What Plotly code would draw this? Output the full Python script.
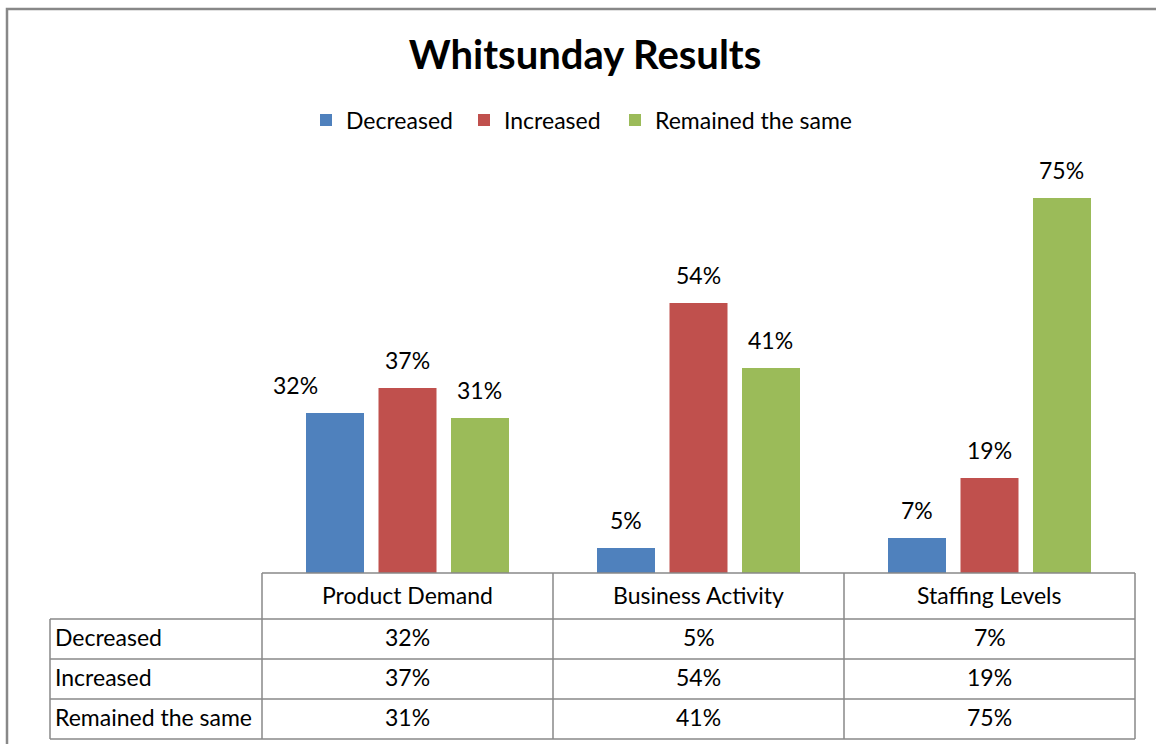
import plotly.graph_objects as go

# ---- data ----
categories = ["Product Demand", "Business Activity", "Staffing Levels"]
series_names = ["Decreased", "Increased", "Remained the same"]
decreased = [32, 5, 7]
increased = [37, 54, 19]
remained_same = [31, 41, 75]
series_values = [decreased, increased, remained_same]

# ---- style ----
colors = ["#4F81BD", "#C0504D", "#9BBB59"]
FONT = "Lato"
W, H = 1156, 744
GRID = "#888888"
TXT = 23


def px(x):
    return x / W


def py(y):
    return 1 - y / H


# table geometry (pixels)
col_edges = [262, 553, 844, 1135]
label_left = 50
table_top = 573
row_edges = [619, 659, 699, 739]

bargap = 0.2526
bargroupgap = 0.2
cat_w = col_edges[1] - col_edges[0]
slot = cat_w * (1 - bargap) / 3
label_nudge = {(0, 0): -40}  # (series, category) -> x pixel nudge
legend_x = [306, 464, 615]   # legend entry positions (pixels)

fig = go.Figure()
for k, (name, vals, c) in enumerate(zip(series_names, series_values, colors)):
    fig.add_trace(go.Bar(
        name=name, x=categories, y=vals,
        marker=dict(color=c, line=dict(width=0)),
        legend="legend" if k == 0 else f"legend{k + 1}",
        hovertemplate="%{x}: %{y}%<extra>" + name + "</extra>",
    ))

annotations = []
# data labels above bars
for i, vals in enumerate(series_values):
    for j, v in enumerate(vals):
        annotations.append(dict(
            x=categories[j], y=v, xref="x", yref="y",
            text=f"{v}%", showarrow=False,
            xshift=(i - 1) * slot + label_nudge.get((i, j), 0),
            yshift=28, yanchor="middle",
            font=dict(family=FONT, size=TXT, color="#000000"),
        ))

# data table: header
for j, cat in enumerate(categories):
    annotations.append(dict(
        x=cat, xref="x", y=py((table_top + row_edges[0]) / 2), yref="paper",
        text=cat, showarrow=False, yanchor="middle", yshift=1,
        font=dict(family=FONT, size=TXT, color="#000000"),
    ))
# data table: rows
for i, (name, vals) in enumerate(zip(series_names, series_values)):
    top = row_edges[i]
    bottom = row_edges[i + 1]
    yc = py((top + bottom) / 2)
    annotations.append(dict(
        x=px(label_left + 3), xref="paper", y=yc, yref="paper",
        text=name, showarrow=False, xanchor="left", yanchor="middle", yshift=2,
        font=dict(family=FONT, size=TXT, color="#000000"),
    ))
    for j, v in enumerate(vals):
        annotations.append(dict(
            x=categories[j], xref="x", y=yc, yref="paper",
            text=f"{v}%", showarrow=False, yanchor="middle", yshift=2,
            font=dict(family=FONT, size=TXT, color="#000000"),
        ))

shapes = []
line = dict(color=GRID, width=1.5)
# horizontal lines
shapes.append(dict(type="line", xref="paper", yref="paper",
                   x0=px(col_edges[0]), x1=px(col_edges[-1]),
                   y0=py(table_top), y1=py(table_top), line=line))
for r in row_edges:
    shapes.append(dict(type="line", xref="paper", yref="paper",
                       x0=px(label_left), x1=px(col_edges[-1]),
                       y0=py(r), y1=py(r), line=line))
# vertical lines
shapes.append(dict(type="line", xref="paper", yref="paper",
                   x0=px(label_left), x1=px(label_left),
                   y0=py(row_edges[0]), y1=py(row_edges[-1]), line=line))
for c in col_edges:
    shapes.append(dict(type="line", xref="paper", yref="paper",
                       x0=px(c), x1=px(c),
                       y0=py(table_top), y1=py(row_edges[-1]), line=line))
# chart border
shapes.append(dict(type="rect", xref="paper", yref="paper",
                   x0=px(7), x1=px(W + 20), y0=py(9), y1=py(H + 20),
                   line=dict(color=GRID, width=2.5)))


def legend_style(xpix):
    return dict(orientation="h", x=px(xpix), xanchor="left",
                y=py(120), yanchor="middle",
                font=dict(family=FONT, size=TXT, color="#000000"),
                bgcolor="rgba(0,0,0,0)",
                itemclick=False, itemdoubleclick=False)


fig.update_layout(
    width=W, height=H,
    margin=dict(l=0, r=0, t=0, b=0),
    paper_bgcolor="white", plot_bgcolor="white",
    barmode="group", bargap=bargap, bargroupgap=bargroupgap,
    title=dict(text="Whitsunday Results", x=585 / W, xanchor="center",
               y=py(55), yanchor="middle", yref="paper",
               font=dict(family=FONT, size=40, color="#000000", weight=700)),
    legend=legend_style(legend_x[0]),
    legend2=legend_style(legend_x[1]),
    legend3=legend_style(legend_x[2]),
    xaxis=dict(domain=[px(col_edges[0]), px(col_edges[-1])],
               showticklabels=False, showgrid=False, zeroline=False,
               showline=False, ticks="", fixedrange=True),
    yaxis=dict(domain=[py(table_top), py(173)], range=[0, 80],
               visible=False, fixedrange=True),
    annotations=annotations,
    shapes=shapes,
    showlegend=True,
)

fig.write_html("out.html", config={"displayModeBar": False},
               post_script="document.body.style.margin='0';")
